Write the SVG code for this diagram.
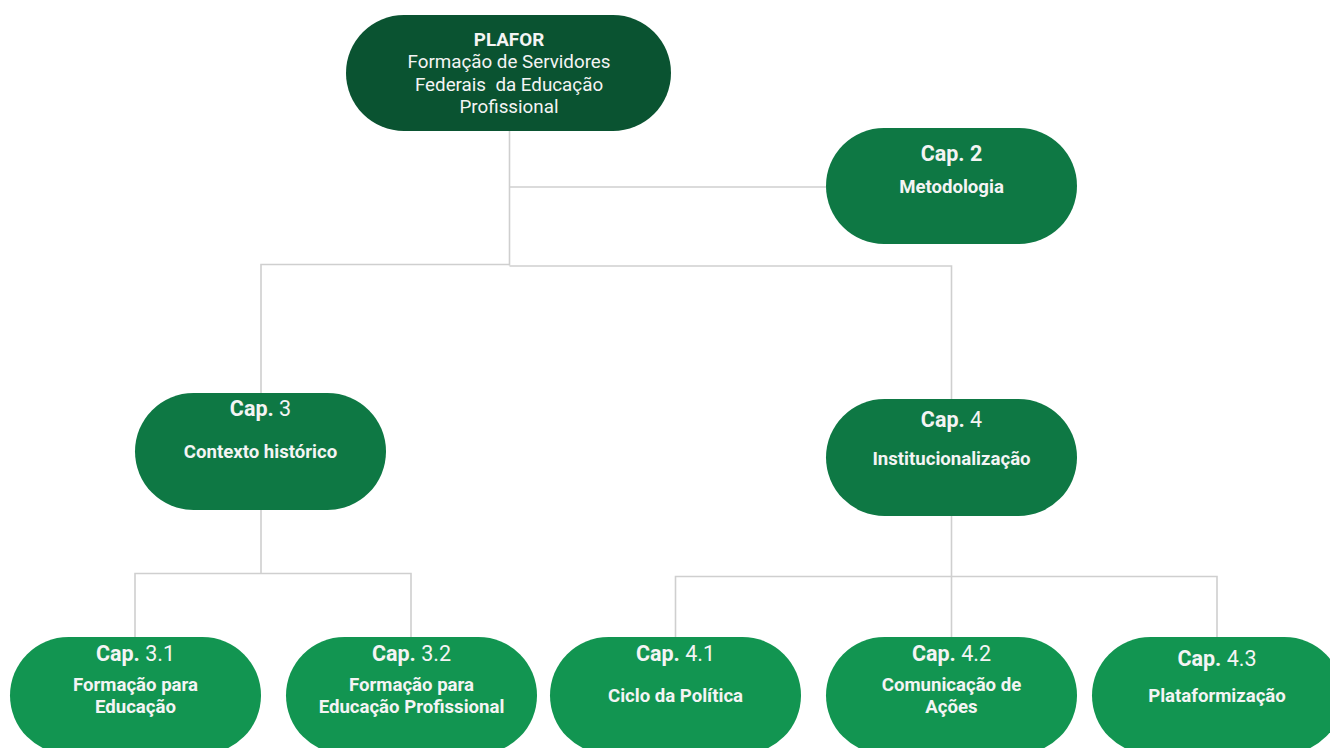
<svg xmlns="http://www.w3.org/2000/svg" width="1330" height="748" viewBox="0 0 1330 748">
<style>
.c{fill:none;stroke:#cfcfcf;stroke-width:1.6}
.t{font-family:Roboto,"Liberation Sans",sans-serif;fill:#f4f4f4;text-anchor:middle}
.p{font-size:18.8px}
.cap{font-size:21.5px}
.cap tspan.b{font-weight:700}
.cap tspan.n{font-weight:400}
.lb{font-size:18.6px;font-weight:700}
.n0{fill:#0a5331}
.n1{fill:#0e7844}
.n2{fill:#129551}
</style>
<rect width="1330" height="748" fill="#ffffff"/>
<g id="connectors">
<path class="c" d="M509.5 131 V265.5"/>
<path class="c" d="M509.5 187 H826"/>
<path class="c" d="M509.5 264.5 H261 V393"/>
<path class="c" d="M509.5 266 H951.5 V399"/>
<path class="c" d="M261 510 V573.5 M135 637 V573.5 H411 V637"/>
<path class="c" d="M951.5 516 V576.5 M675.5 637 V576.5 H1217 V637 M951.5 576.5 V637"/>
</g>
<g id="plafor">
<rect class="n0" x="346" y="15" width="325" height="116" rx="58"/>
<text class="t p" x="509" y="46" font-weight="700">PLAFOR</text>
<text class="t p" x="509" y="68">Formação de Servidores</text>
<text class="t p" x="509" y="91" xml:space="preserve" style="white-space:pre">Federais  da Educação</text>
<text class="t p" x="509" y="113">Profissional</text>
</g>
<g id="cap2">
<rect class="n1" x="826" y="128" width="251" height="116" rx="58"/>
<text class="t cap" x="951.5" y="161"><tspan class="b">Cap. 2</tspan></text>
<text class="t lb" x="951.5" y="193">Metodologia</text>
</g>
<g id="cap3">
<rect class="n1" x="135" y="393" width="251" height="117" rx="58.5"/>
<text class="t cap" x="260.5" y="416"><tspan class="b">Cap.</tspan> <tspan class="n">3</tspan></text>
<text class="t lb" x="260.5" y="458">Contexto histórico</text>
</g>
<g id="cap4">
<rect class="n1" x="826" y="399" width="251" height="117" rx="58.5"/>
<text class="t cap" x="951.5" y="427"><tspan class="b">Cap.</tspan> <tspan class="n">4</tspan></text>
<text class="t lb" x="951.5" y="465">Institucionalização</text>
</g>
<g id="cap31">
<rect class="n2" x="10" y="637" width="251" height="117" rx="58.5"/>
<text class="t cap" x="135.5" y="661"><tspan class="b">Cap.</tspan> <tspan class="n">3.1</tspan></text>
<text class="t lb" x="135.5" y="691">Formação para</text>
<text class="t lb" x="135.5" y="713">Educação</text>
</g>
<g id="cap32">
<rect class="n2" x="286" y="637" width="251" height="117" rx="58.5"/>
<text class="t cap" x="411.5" y="661"><tspan class="b">Cap.</tspan> <tspan class="n">3.2</tspan></text>
<text class="t lb" x="411.5" y="691">Formação para</text>
<text class="t lb" x="411.5" y="713">Educação Profissional</text>
</g>
<g id="cap41">
<rect class="n2" x="550" y="637" width="251" height="117" rx="58.5"/>
<text class="t cap" x="675.5" y="661"><tspan class="b">Cap.</tspan> <tspan class="n">4.1</tspan></text>
<text class="t lb" x="675.5" y="702">Ciclo da Política</text>
</g>
<g id="cap42">
<rect class="n2" x="826" y="637" width="251" height="117" rx="58.5"/>
<text class="t cap" x="951.5" y="661"><tspan class="b">Cap.</tspan> <tspan class="n">4.2</tspan></text>
<text class="t lb" x="951.5" y="691">Comunicação de</text>
<text class="t lb" x="951.5" y="713">Ações</text>
</g>
<g id="cap43">
<rect class="n2" x="1092" y="637" width="251" height="117" rx="58.5"/>
<text class="t cap" x="1217" y="666"><tspan class="b">Cap.</tspan> <tspan class="n">4.3</tspan></text>
<text class="t lb" x="1217" y="702">Plataformização</text>
</g>
</svg>
